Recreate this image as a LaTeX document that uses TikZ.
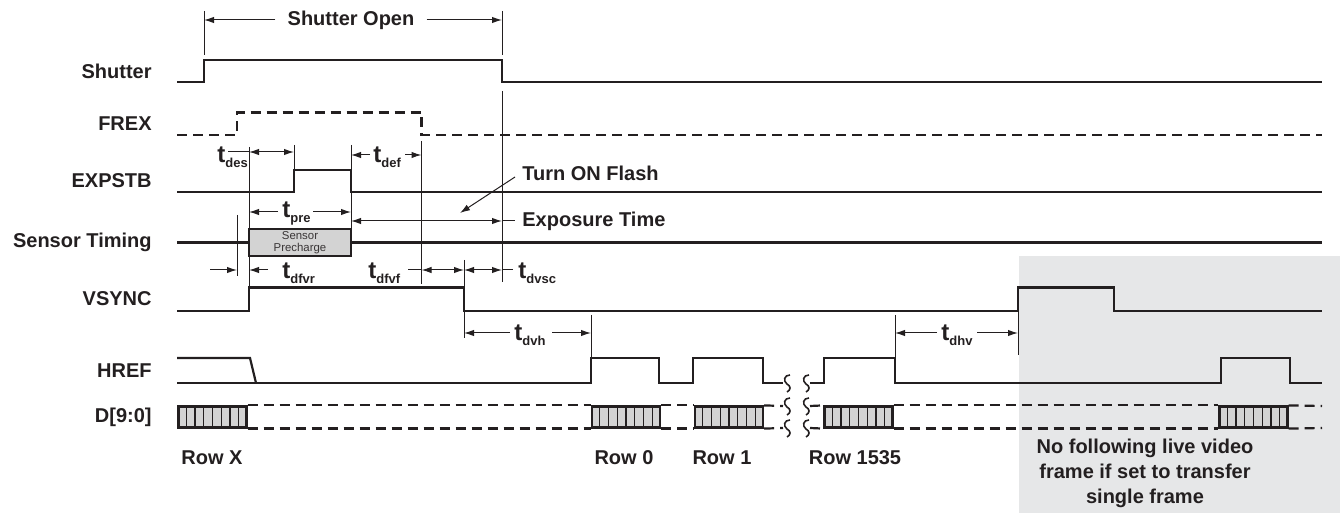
\documentclass[tikz,border=0pt]{standalone}
\usepackage{fontspec}
\setmainfont{Liberation Sans}
\usepackage{tikz}
\usetikzlibrary{arrows.meta,calc,positioning}
\definecolor{ink}{HTML}{231F20}
\definecolor{cellgray}{HTML}{D3D3D3}
\definecolor{bggray}{HTML}{E6E7E8}
\tikzset{%
	signal/.style   = {ink, line width=1.1pt},
	dsignal/.style  = {signal, dash pattern=on 5pt off 3pt},
	dim/.style      = {ink, line width=0.5pt},
	signame/.style  = {anchor=east, inner sep=0pt, font=\bfseries, text=ink}, % signal names
	note/.style     = {anchor=west, inner sep=0pt, font=\bfseries, text=ink},
	tlabel/.style   = {anchor=base west, inner sep=0pt, text=ink},
	rowlabel/.style = {inner sep=0pt, font=\bfseries, text=ink},
	precharge/.style= {draw=ink, line width=1.1pt, fill=cellgray, minimum width=51pt, minimum height=13.5pt, inner sep=0pt, align=center, font=\fontsize{5.7}{6}\selectfont, text=ink!90},
	cell/.style     = {draw=ink, line width=1.1pt, fill=cellgray, minimum width=34pt, minimum height=10.5pt, inner sep=0pt},
	brk/.pic        = {\draw[ink, line width=0.8pt] (3,-8) .. controls (-3,-8) and (-4,-2) .. (0,1) .. controls (4,3) and (4,7) .. (0,9);},
}
\newcommand{\tsub}[1]{{\bfseries\fontsize{12}{12}\selectfont t}\raisebox{-2.5pt}{\bfseries\fontsize{6.5}{7}\selectfont #1}}

\begin{document}
\begin{tikzpicture}[x=0.5pt,y=-0.5pt,>={Latex[length=5pt,width=3.2pt]}]
	\useasboundingbox (0,0) rectangle (1340,513);
	\fill[bggray] (1019,256) rectangle (1340,513);

	% signal names
	\node[signame] (shut) at (152,71) {Shutter};
	\node[signame] (frex) at (152,124) {FREX};
	\node[signame] (expst) at (152,181) {EXPSTB};
	\node[signame] (sens) at (152,242) {Sensor Timing};
	\node[signame] (vsync) at (152,299) {VSYNC};
	\node[signame] (href) at (152,371) {HREF};
	\node[signame] (data) at (152,417) {D[9:0]};

	% waveforms
	\draw[signal] (177,82) -- (204,82) -- (204,60) -- (502,60) -- (502,82) -- (1322,82);
	\draw[dsignal] (177,135) -- (237,135) -- (237,112.5) -- (421.5,112.5) -- (421.5,135) -- (1322,135);
	\draw[signal] (177,192) -- (294,192) -- (294,170) -- (351,170) -- (351,192) -- (1322,192);
	\node[precharge] (pre) at (300,242.5) {Sensor\\Precharge};
	\draw[signal] (177,242.5) -- (pre.west);
	\draw[signal] (pre.east) -- (1322,242.5);
	\draw[signal] (177,311) -- (249,311) -- (249,287.5) -- (464,287.5) -- (464,311) -- (1018,311) -- (1018,287.5) -- (1114,287.5) -- (1114,311) -- (1322,311);
	\draw[signal] (177,358) -- (250,358) -- (256,383);
	\draw[signal] (177,383) -- (591,383) -- (591,358) -- (659,358) -- (659,383) -- (693,383) -- (693,358) -- (763,358) -- (763,383) -- (783,383);
	\draw[signal] (810,383) -- (824,383) -- (824,358) -- (895,358) -- (895,383) -- (1221,383) -- (1221,358) -- (1290,358) -- (1290,383) -- (1322,383);

	% data words
	\foreach \nm/\cx in {dx/212.5, d0/626, d1/729, dl/858.5, dn/1253.5} {
		\node[cell] (\nm) at (\cx,417) {};
		\foreach \k in {1,...,7}
			\draw[ink, line width=0.6pt] ($(\nm.north west)!\k/8!(\nm.north east)$) -- ($(\nm.south west)!\k/8!(\nm.south east)$);
	}
	\foreach \a/\b in {dx/d0, d0/d1, dl/dn} {
		\draw[dsignal] (\a.north east) -- (\b.north west);
		\draw[dsignal] (\a.south east) -- (\b.south west);
	}
	\draw[dsignal] (d1.north east) -- (783,406);
	\draw[dsignal] (d1.south east) -- (783,428);
	\draw[dsignal] (810,406) -- (dl.north west);
	\draw[dsignal] (810,428) -- (dl.south west);
	\draw[dsignal] (dn.north east) -- (1322,406);
	\draw[dsignal] (dn.south east) -- (1322,428);
	\foreach \bx in {787,806}
		\foreach \by in {383,406,428}
			\pic at (\bx,\by) {brk};

	% timing marks
	\draw[dim] (204,11) -- (204,55);
	\draw[dim] (502,11) -- (502,55);
	\draw[dim] (502,91) -- (502,282);
	\draw[dim] (237,215) -- (237,276);
	\draw[dim] (249,147) -- (249,287.5);
	\draw[dim] (294,145) -- (294,170);
	\draw[dim] (351,145) -- (351,229);
	\draw[dim] (421.5,141) -- (421.5,284);
	\draw[dim] (464,260) -- (464,338);
	\draw[dim] (591,315) -- (591,358);
	\draw[dim] (895,315) -- (895,358);
	\draw[dim] (1018,311) -- (1018,355);

	\node[rowlabel] (sopen) at (351,20) {Shutter Open};
	\draw[dim,->] ([xshift=-6pt]sopen.west) -- (204,20);
	\draw[dim,->] ([xshift=6pt]sopen.east) -- (502,20);

	\node[tlabel] (tdes) at (217,163) {\tsub{des}};
	\draw[dim] (228,152) -- (249,152);
	\draw[dim,<->] (249,152) -- (294,152);
	\node[tlabel] (tdef) at (373,163) {\tsub{def}};
	\draw[dim,->] (370,155) -- (351,155);
	\draw[dim,->] (405,155) -- (421.5,155);

	\node[tlabel] (tpre) at (282,218) {\tsub{pre}};
	\draw[dim,->] (278,212) -- (249,212);
	\draw[dim,->] (313,212) -- (351,212);

	\node[note] (flash) at (522,173) {Turn ON Flash};
	\node[note] (expo) at (522,221) {Exposure Time};
	\draw[dim,->] (515,177) -- (460,213);
	\draw[dim,<->] (351,221) -- (502,221);
	\draw[dim] (502,221) -- ([xshift=-3.5pt]expo.west);

	\draw[dim,->] (210,270) -- (237,270);
	\draw[dim,->] (268,270) -- (249,270);
	\node[tlabel] (tdfvr) at (282,279) {\tsub{dfvr}};
	\node[tlabel] (tdfvf) at (368,279) {\tsub{dfvf}};
	\draw[dim] (408,270) -- (421.5,270);
	\draw[dim,<->] (421.5,270) -- (464,270);
	\draw[dim,<->] (464,270) -- (502,270);
	\draw[dim] (502,270) -- (513,270);
	\node[tlabel] (tdvsc) at (518,279) {\tsub{dvsc}};

	\draw[dim,->] (510,333) -- (464,333);
	\node[tlabel] (tdvh) at (514,341) {\tsub{dvh}};
	\draw[dim,->] (552,333) -- (591,333);
	\draw[dim,->] (937,333) -- (895,333);
	\node[tlabel] (tdhv) at (941,341) {\tsub{dhv}};
	\draw[dim,->] (977,333) -- (1018,333);

	% row names
	\node[rowlabel] (rowx) at (212,458) {Row X};
	\node[rowlabel] (row0) at (624,458) {Row 0};
	\node[rowlabel] (row1) at (722,458) {Row 1};
	\node[rowlabel] (rowl) at (855,458) {Row 1535};
	\node[rowlabel, align=center, font=\bfseries\fontsize{10}{12.5}\selectfont] (nolive) at (1145,473) {No following live video\\frame if set to transfer\\single frame};
\end{tikzpicture}
\end{document}
